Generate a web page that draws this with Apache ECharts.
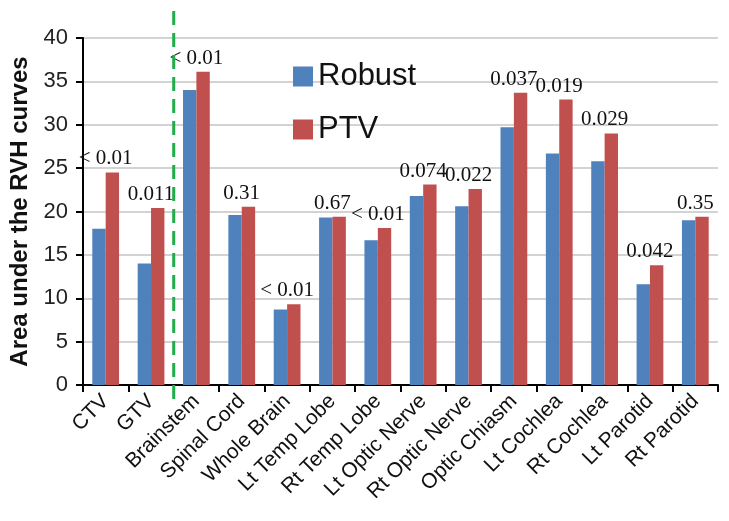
<!DOCTYPE html>
<html>
<head>
<meta charset="utf-8">
<script src="https://cdn.jsdelivr.net/npm/echarts@6/dist/echarts.min.js"></script>
<style>html,body{margin:0;padding:0;background:#fff}#c{width:729px;height:521px}</style>
</head>
<body>
<div id="c"></div>
<script>
const categories = ['CTV','GTV','Brainstem','Spinal Cord','Whole Brain','Lt Temp Lobe','Rt Temp Lobe','Lt Optic Nerve','Rt Optic Nerve','Optic Chiasm','Lt Cochlea','Rt Cochlea','Lt Parotid','Rt Parotid'];
const robust = [18.0,14.0,34.0,19.6,8.7,19.3,16.7,21.8,20.6,29.7,26.7,25.8,11.6,19.0];
const ptv = [24.5,20.4,36.1,20.55,9.3,19.4,18.1,23.1,22.6,33.7,32.9,29.0,13.8,19.4];
const pValues = ['< 0.01','0.011','< 0.01','0.31','< 0.01','0.67','< 0.01','0.074','0.022','0.037','0.019','0.029','0.042','0.35'];
const yTicks = [0,5,10,15,20,25,30,35,40];

const chart = echarts.init(document.getElementById('c'));
const option = {
  animation: false,
  grid: {left: 78.5, right: 11, top: 38, bottom: 136, containLabel: false},
  legend: {
    orient: 'vertical', left: 288, top: 56, itemWidth: 20, itemHeight: 20, itemGap: 22, icon: 'rect',
    textStyle: {fontFamily: 'Liberation Sans', fontSize: 31, color: '#111'},
    data: ['Robust','PTV']
  },
  xAxis: {
    type: 'category', data: categories,
    axisLine: {lineStyle: {color: '#000', width: 2}},
    axisTick: {show: true, length: 7, lineStyle: {color: '#000', width: 2}},
    axisLabel: {rotate: 45, interval: 0, margin: 13, fontFamily: 'Liberation Sans', fontSize: 21, color: '#111'}
  },
  yAxis: {
    type: 'value', min: yTicks[0], max: yTicks[yTicks.length-1], interval: 5,
    name: 'Area under the RVH curves', nameLocation: 'middle', nameGap: 51,
    nameTextStyle: {fontFamily: 'Liberation Sans', fontWeight: 'bold', fontSize: 24, color: '#111'},
    axisLine: {show: true, lineStyle: {color: '#000', width: 2}},
    axisTick: {show: true, length: 7, lineStyle: {color: '#000', width: 2}},
    axisLabel: {margin: 15, fontFamily: 'Liberation Sans', fontSize: 22, color: '#222'},
    splitLine: {lineStyle: {color: '#c4c4c4', width: 1.5}}
  },
  series: [
    {name: 'Robust', type: 'bar', data: robust, barGap: '0%', barCategoryGap: '41%', itemStyle: {color: '#4f81bd'}},
    {name: 'PTV', type: 'bar', data: ptv, barGap: '0%', barCategoryGap: '41%', itemStyle: {color: '#c0504d'},
      label: {show: true, position: 'top', distance: 3, offset: [-6.7, 0],
        fontFamily: 'Liberation Serif', fontSize: 21, color: '#111',
        formatter: p => pValues[p.dataIndex]}}
  ]
};
chart.setOption(option);
const x1 = chart.convertToPixel({xAxisIndex: 0}, categories[1]);
const x2 = chart.convertToPixel({xAxisIndex: 0}, categories[2]);
const xm = (x1 + x2) / 2;
chart.setOption({graphic: [{type: 'line', shape: {x1: xm, y1: 11, x2: xm, y2: 402},
  style: {stroke: '#1fae4a', lineWidth: 3, lineDash: [14, 8]}, z: 100}]});
</script>
</body>
</html>
